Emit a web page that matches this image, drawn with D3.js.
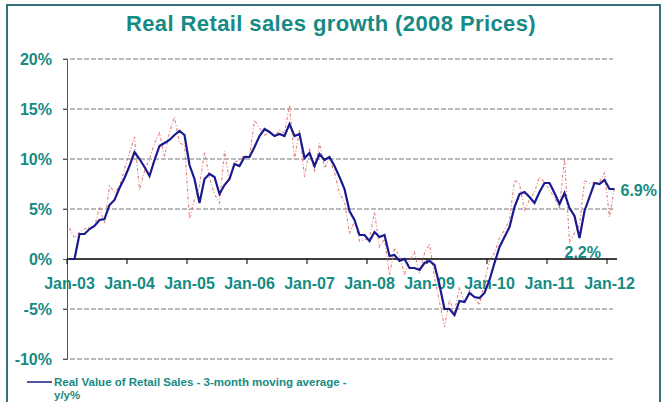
<!DOCTYPE html>
<html>
<head>
<meta charset="utf-8">
<script src="https://cdn.jsdelivr.net/npm/d3@7"></script>
<style>
  body { margin: 0; background: #fff; }
  text { font-family: "Liberation Sans", Arial, sans-serif; font-weight: bold; }
</style>
</head>
<body>
<div id="chart"></div>
<script>
// tick labels, one per January
var yearLabels = ["Jan-03", "Jan-04", "Jan-05", "Jan-06", "Jan-07", "Jan-08", "Jan-09", "Jan-10", "Jan-11", "Jan-12"];

// 3-month moving average, y/y %, monthly Jan-03 .. Feb-12
var avgValues = [
  0, 0, 2.5, 2.5, 3.0, 3.3, 3.9, 4.0, 5.4, 5.9, 7.1, 8.1,
  9.3, 10.7, 10.0, 9.2, 8.3, 9.9, 11.3, 11.6, 11.9, 12.4, 12.8, 12.4,
  9.4, 8.0, 5.6, 8.0, 8.5, 8.2, 6.5, 7.4, 8.0, 9.5, 9.3, 10.2,
  10.2, 11.2, 12.3, 13.0, 12.7, 12.3, 12.5, 12.3, 13.5, 12.3, 12.5, 10.1,
  10.6, 9.3, 10.5, 9.9, 10.2, 9.3, 8.2, 7.0, 4.8, 3.9, 2.4, 2.4,
  1.8, 2.7, 2.2, 2.4, 0.3, 0.4, -0.2, 0.0, -0.9, -0.9, -1.1, -0.4,
  -0.2, -0.6, -2.6, -5.0, -5.0, -5.6, -4.2, -4.3, -3.4, -3.8, -3.9, -3.4,
  -2.1, -0.4, 1.2, 2.2, 3.2, 5.2, 6.5, 6.7, 6.2, 5.6, 6.7, 7.6,
  7.6, 6.6, 5.5, 6.6, 5.1, 4.3, 2.1, 4.8, 6.2, 7.6, 7.5, 7.9,
  7.0, 7.0
];

// monthly y/y %
var monthValues = [
  3.1, 2.1, 2.7, 3.0, 3.2, 3.2, 5.2, 3.6, 7.3, 6.7, 7.2, 9.0,
  10.6, 12.2, 6.9, 8.8, 10.0, 11.6, 12.6, 10.2, 12.7, 14.2, 11.6, 11.4,
  4.0, 6.0, 7.3, 10.7, 8.1, 6.5, 5.6, 10.8, 7.8, 9.7, 9.9, 10.4,
  10.2, 13.9, 13.1, 12.4, 12.6, 12.2, 12.9, 12.6, 15.4, 10.0, 12.9, 8.2,
  11.1, 8.7, 11.6, 9.1, 10.0, 8.7, 6.5, 5.8, 2.5, 3.8, 1.8, 1.9,
  2.1, 4.7, 1.2, 2.0, -1.6, 1.1, 0.3, -1.5, -0.2, 0.7, -1.4, 0.6,
  1.5, -1.8, -4.3, -6.8, -4.1, -5.3, -2.8, -4.4, -3.1, -3.9, -4.6, -2.3,
  -0.1, 0.6, 2.1, 2.9, 3.9, 7.9, 7.5, 4.9, 5.9, 6.7, 8.2, 7.7,
  6.9, 6.1, 5.1, 10.1, 1.7, 2.6, 3.4, 7.8, 7.6, 7.6, 7.7, 8.6,
  4.2, 7.2
];

var yTicks = [-10, -5, 0, 5, 10, 15, 20];

var legendText = ["Real Value of Retail Sales - 3-month moving average -", "y/y%"];

var width = 664,
    height = 402,
    margin = {top: 59, left: 67, right: 47, bottom: 43};

var teal = "#168a84";

var svg = d3.select("#chart").append("svg")
  .attr("width", width)
  .attr("height", height);

// outer frame
svg.append("rect")
  .attr("x", 7).attr("y", 5)
  .attr("width", 653).attr("height", 420)
  .style("fill", "none")
  .style("stroke", "#33707c")
  .style("stroke-width", 2);

svg.append("text")
  .attr("x", 331)
  .attr("y", 31)
  .attr("text-anchor", "middle")
  .style("font-size", "22px")
  .style("letter-spacing", "0.4px")
  .style("fill", teal)
  .text("Real Retail sales growth (2008 Prices)");

var x = d3.scaleBand()
  .domain(d3.range(avgValues.length))
  .range([margin.left, width - margin.right]);

var cx = function(i) { return x(i) + x.bandwidth() / 2; };

var y = d3.scaleLinear()
  .domain([-10, 20])
  .range([height - margin.bottom, margin.top]);

// gridlines
svg.selectAll(".grid")
  .data(yTicks.filter(function(d){ return d !== 0; }))
  .enter()
  .append("line")
  .attr("x1", margin.left - 4)
  .attr("x2", width - margin.right - 4)
  .attr("y1", function(d){ return y(d); })
  .attr("y2", function(d){ return y(d); })
  .style("stroke", "#7a7a7a")
  .style("stroke-width", 1.2)
  .style("stroke-dasharray", "5,2");

// y axis
var yAxis = svg.append("g")
  .attr("transform", "translate(" + margin.left + ",0)")
  .call(d3.axisLeft(y).tickValues(yTicks).tickSize(4).tickFormat(function(d){ return d + "%"; }));
yAxis.select(".domain").style("stroke", "#555");
yAxis.selectAll(".tick line").style("stroke", "#555");
yAxis.selectAll(".tick text")
  .attr("x", -15)
  .style("font-size", "16px")
  .style("font-family", "'Liberation Sans', Arial, sans-serif")
  .style("font-weight", "bold")
  .style("fill", teal);

// zero line with yearly ticks
var yearIdx = d3.range(0, avgValues.length, 12);
svg.append("line")
  .attr("x1", margin.left)
  .attr("x2", width - margin.right)
  .attr("y1", y(0)).attr("y2", y(0))
  .style("stroke", "#000")
  .style("stroke-width", 1.3);

svg.selectAll(".xtick")
  .data(yearIdx)
  .enter()
  .append("line")
  .attr("x1", function(d){ return x(d); })
  .attr("x2", function(d){ return x(d); })
  .attr("y1", y(0))
  .attr("y2", y(0) + 5)
  .style("stroke", "#000");

svg.selectAll(".xlabel")
  .data(yearIdx)
  .enter()
  .append("text")
  .attr("x", function(d){ return cx(d); })
  .attr("y", y(0) + 30)
  .attr("text-anchor", "middle")
  .style("font-size", "16px")
  .style("fill", teal)
  .text(function(d, i){ return yearLabels[i]; });

// monthly series (dash-dot)
var line = d3.line()
  .x(function(d, i){ return cx(i); })
  .y(function(d){ return y(d); });

svg.append("path")
  .datum(monthValues)
  .attr("d", line)
  .style("fill", "none")
  .style("stroke", "#e06a6a")
  .style("stroke-width", 1.1)
  .style("stroke-dasharray", "3,2,1,2")
  .style("opacity", 0.85);

// 3-month average
svg.append("path")
  .datum(avgValues)
  .attr("d", line)
  .style("fill", "none")
  .style("stroke", "#1a1a8e")
  .style("stroke-width", 2.2);

// annotations
var last = avgValues.length - 1;
svg.append("text")
  .attr("x", cx(last) + 6)
  .attr("y", y(avgValues[last]) + 7)
  .style("font-size", "16px")
  .style("fill", teal)
  .text("6.9%");

var lowIdx = 102;
svg.append("text")
  .attr("x", cx(lowIdx) - 15)
  .attr("y", y(avgValues[lowIdx]) + 20)
  .style("font-size", "16px")
  .style("fill", teal)
  .text("2.2%");

// legend
svg.append("line")
  .attr("x1", 27).attr("x2", 52)
  .attr("y1", 382).attr("y2", 382)
  .style("stroke", "#1a1a8e")
  .style("stroke-width", 1.5);

svg.selectAll(".legend")
  .data(legendText)
  .enter()
  .append("text")
  .attr("x", 54)
  .attr("y", function(d, i){ return 386 + i * 13; })
  .style("font-size", "11.5px")
  .style("fill", teal)
  .text(function(d){ return d; });
</script>
</body>
</html>
